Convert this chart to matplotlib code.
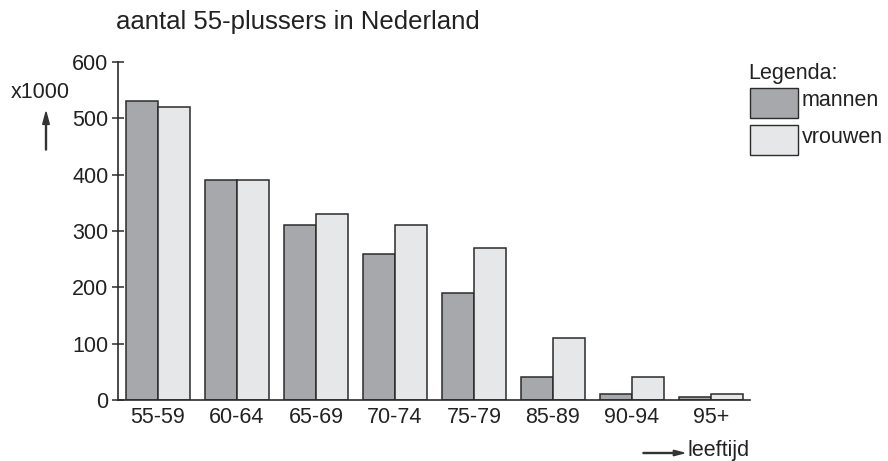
import numpy as np
import matplotlib.pyplot as plt
from matplotlib.patches import Rectangle, FancyArrow

plt.rcParams['font.family'] = ['Liberation Sans', 'DejaVu Sans']

# data (x1000)
leeftijd = ['55-59', '60-64', '65-69', '70-74', '75-79', '85-89', '90-94', '95+']
mannen = [530, 390, 310, 260, 190, 40, 10, 5]
vrouwen = [520, 390, 330, 310, 270, 110, 40, 10]

kleur_m = '#a7a8ab'
kleur_v = '#e6e7e8'
rand = '#2b2b2b'
fs = 15.5

W, H = 888, 461
fig = plt.figure(figsize=(W / 100, H / 100), dpi=100)
ax = fig.add_axes([118 / W, 61 / H, (750 - 118) / W, (400 - 62) / H])

x = np.arange(len(leeftijd))
bw = 0.405
ax.bar(x - bw / 2, mannen, bw, color=kleur_m, edgecolor=rand, linewidth=1.1)
ax.bar(x + bw / 2, vrouwen, bw, color=kleur_v, edgecolor=rand, linewidth=1.1)

ax.set_xlim(-0.506, 7.494)
ax.set_ylim(0, 600)
ax.set_yticks([0, 100, 200, 300, 400, 500, 600])
ax.set_xticks(x)
ax.set_xticklabels(leeftijd)
ax.tick_params(axis='x', length=0, pad=5, labelsize=fs, labelcolor='#222222')
ax.tick_params(axis='y', direction='inout', length=8, width=1.1, pad=3,
               labelsize=fs, labelcolor='#222222', color=rand)
for s in ['top', 'right']:
    ax.spines[s].set_visible(False)
for s in ['left', 'bottom']:
    ax.spines[s].set_linewidth(1.2)
    ax.spines[s].set_color(rand)

# titel en aslabels
fig.text(116 / W, 1 - 22 / H, 'aantal 55-plussers in Nederland', fontsize=18.5,
         va='center', ha='left', color='#222222')
fig.text(11 / W, 1 - 93 / H, 'x1000', fontsize=fs, va='center', ha='left',
         color='#222222')
fig.patches.append(FancyArrow(
    46 / W, 1 - 150 / H, 0, 38 / H, width=0.0011, head_width=0.0075,
    head_length=0.027, length_includes_head=True, color='#333333',
    transform=fig.transFigure))
fig.patches.append(FancyArrow(
    643 / W, 1 - 453 / H, 41 / W, 0, width=0.0022, head_width=0.012,
    head_length=0.012, length_includes_head=True, color='#333333',
    transform=fig.transFigure))
fig.text(687 / W, 1 - 450 / H, 'leeftijd', fontsize=fs, va='center', ha='left',
         color='#222222')

# legenda
fig.text(748 / W, 1 - 73 / H, 'Legenda:', fontsize=fs, va='center', ha='left',
         color='#222222')
fig.patches.append(Rectangle((750 / W, 1 - 118 / H), 48 / W, 30 / H,
                             facecolor=kleur_m, edgecolor=rand, lw=1.0,
                             transform=fig.transFigure))
fig.patches.append(Rectangle((750 / W, 1 - 155 / H), 48 / W, 30 / H,
                             facecolor=kleur_v, edgecolor=rand, lw=1.0,
                             transform=fig.transFigure))
fig.text(802 / W, 1 - 100 / H, 'mannen', fontsize=fs, va='center', ha='left',
         color='#222222')
fig.text(802 / W, 1 - 137 / H, 'vrouwen', fontsize=fs, va='center', ha='left',
         color='#222222')

fig.savefig('out.png', dpi=100)
